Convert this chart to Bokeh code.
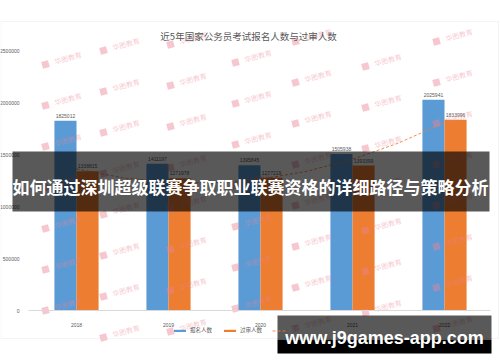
from bokeh.plotting import figure
from bokeh.models import (ColumnDataSource, Legend, LegendItem, Label, BoxAnnotation,
                          Range1d, FixedTicker)
from bokeh.embed import file_html
from bokeh.resources import INLINE
from bokeh.core.properties import value

# ---- data ----
years = ["2018", "2019", "2020", "2021", "2022"]
applicants = [1825012, 1411197, 1395845, 1505938, 2025941]      # 报名人数
approved = [1338815, 1271978, 1277219, 1393399, 1833996]        # 过审人数
trend_pos = [0, 0.5, 1, 1.5, 2, 2.5, 3, 3.5, 4]                 # 多项式(过审人数)
trend_vals = [1361500, 1276400, 1231500, 1226800, 1262300, 1337900, 1453900, 1610000, 1806300]
y_ticks = [0, 500000, 1000000, 1500000, 2000000, 2500000]

title_text = "近5年国家公务员考试报名人数与过审人数"
banner_text = "如何通过深圳超级联赛争取职业联赛资格的详细路径与策略分析"
site_text = "www.j9games-app.com"
wm_text = "华图教育"

BLUE = "#5b9bd5"
ORANGE = "#ed7d31"
GREY = "#595959"
PINK = "#ec8394"
CJK = "Noto Sans CJK SC"
W, H = 500, 362
PL, PR, PT, PB = 30, 490, 50, 310   # plot-area edges in pixels
YMAX = 2500000

def xd(px):
    return (px - PL) / (PR - PL) * len(years) - 0.5

def yd(py):
    return (PB - py) / (PB - PT) * YMAX

idx = list(range(len(years)))
src = ColumnDataSource(dict(
    xb=[i - 0.12 for i in idx], xo=[i + 0.12 for i in idx],
    a=applicants, o=approved,
    at=[str(v) for v in applicants], ot=[str(v) for v in approved],
))

p = figure(width=W, height=H, output_backend="svg", toolbar_location=None, title=None,
           x_range=Range1d(xd(0), xd(W)), y_range=Range1d(yd(H), yd(0)),
           min_border=0)
p.outline_line_color = None
p.xgrid.visible = False
p.ygrid.visible = False

# chart outer box
p.add_layout(BoxAnnotation(left=xd(0.5), right=xd(498), top=yd(21), bottom=yd(338),
                           fill_alpha=0, line_color="#d9d9d9", line_width=1))

rb = p.vbar(x="xb", top="a", width=0.24, source=src, fill_color=BLUE, line_color=None)
ro = p.vbar(x="xo", top="o", width=0.24, source=src, fill_color=ORANGE, line_color=None)
rt = p.line(trend_pos, trend_vals, line_color=ORANGE, line_alpha=0.85, line_width=1,
            line_dash="3 2")

p.text(x="xb", y="a", text="at", source=src, text_align="center", text_baseline="bottom",
       y_offset=-3, text_font_size="5px", text_color=GREY, text_font=value("Liberation Sans"))
p.text(x="xo", y="o", text="ot", source=src, text_align="center", text_baseline="bottom",
       y_offset=-3, text_font_size="5px", text_color=GREY, text_font=value("Liberation Sans"))

# faint publisher watermark pattern (decoration of the screenshot)
wm_cols = [57, 115, 182, 247, 307, 377, 448]
wm_phase = [20, 6, 0, 18, 38, 22, 38]
wm_px, wm_py = [], []
for cx, ph in zip(wm_cols, wm_phase):
    yy = ph
    while yy < 336:
        if yy > 26:
            wm_px.append(cx)
            wm_py.append(yy)
        yy += 41
wsrc = ColumnDataSource(dict(x=[xd(v - 12) for v in wm_px], y=[yd(v + 3) for v in wm_py],
                             tx=[xd(v - 3) for v in wm_px], ty=[yd(v) for v in wm_py],
                             t=[wm_text] * len(wm_px)))
p.scatter(x="x", y="y", source=wsrc, marker="square", size=7, angle=0.26,
          fill_color=PINK, fill_alpha=0.45, line_color=None)
p.text(x="tx", y="ty", text="t", source=wsrc, angle=0.26, text_font=value(CJK),
       text_font_size="7px", text_color=PINK, text_alpha=0.45, text_baseline="middle")

# axes drawn inside the canvas at fixed locations
p.xaxis.fixed_location = 0
p.xaxis.bounds = (xd(28), xd(490))
p.xaxis.ticker = FixedTicker(ticks=idx)
p.xaxis.major_label_overrides = {i: y for i, y in enumerate(years)}
p.xaxis.major_tick_line_color = None
p.xaxis.minor_tick_line_color = None
p.xaxis.axis_line_color = "#d9d9d9"
p.xaxis.major_label_text_font_size = "5px"
p.xaxis.major_label_text_color = GREY
p.xaxis.major_label_standoff = 6

p.yaxis.fixed_location = xd(PL)
p.yaxis.bounds = (0, YMAX)
p.yaxis.ticker = FixedTicker(ticks=y_ticks)
p.yaxis.major_label_overrides = {t: str(t) for t in y_ticks}
p.yaxis.major_tick_line_color = None
p.yaxis.minor_tick_line_color = None
p.yaxis.axis_line_color = None
p.yaxis.major_label_text_font_size = "5px"
p.yaxis.major_label_text_color = GREY
p.yaxis.major_label_standoff = 5

# title
p.add_layout(Label(x=xd(248), y=yd(35), text=title_text,
                   text_align="center", text_baseline="middle", text_font=CJK,
                   text_font_size="9.5px", text_color=GREY))

legend = Legend(items=[LegendItem(label="报名人数", renderers=[rb]),
                       LegendItem(label="过审人数", renderers=[ro]),
                       LegendItem(label="多项式(过审人数)", renderers=[rt])],
                orientation="horizontal", location=(172, H - 334),
                label_text_font=CJK, label_text_font_size="5.5px", label_text_color=GREY,
                glyph_width=15, glyph_height=3, label_height=6, label_width=10,
                label_standoff=3, spacing=10, padding=0, margin=0,
                border_line_color=None, background_fill_alpha=0)
p.add_layout(legend)

# banner overlay
p.add_layout(BoxAnnotation(left=xd(12), right=xd(489), top=yd(151), bottom=yd(211),
                           fill_color="black", fill_alpha=0.65, line_color=None))
p.add_layout(Label(x=xd(250), y=yd(186), text=banner_text,
                   text_align="center", text_baseline="middle", text_font=CJK,
                   text_font_style="bold", text_font_size="17px", text_color="white"))

# site watermark
p.add_layout(BoxAnnotation(left=xd(277), right=xd(491), top=yd(339), bottom=yd(353),
                           fill_color="black", fill_alpha=1, line_color=None))
p.add_layout(BoxAnnotation(left=xd(277), right=xd(491), top=yd(315), bottom=yd(339),
                           fill_color="black", fill_alpha=0.65, line_color=None))
p.add_layout(Label(x=xd(384), y=yd(337), text=site_text,
                   text_align="center", text_baseline="middle", text_font="Liberation Sans",
                   text_font_style="bold", text_font_size="18px", text_color="white"))

open("out.html", "w").write(file_html(p, INLINE))
